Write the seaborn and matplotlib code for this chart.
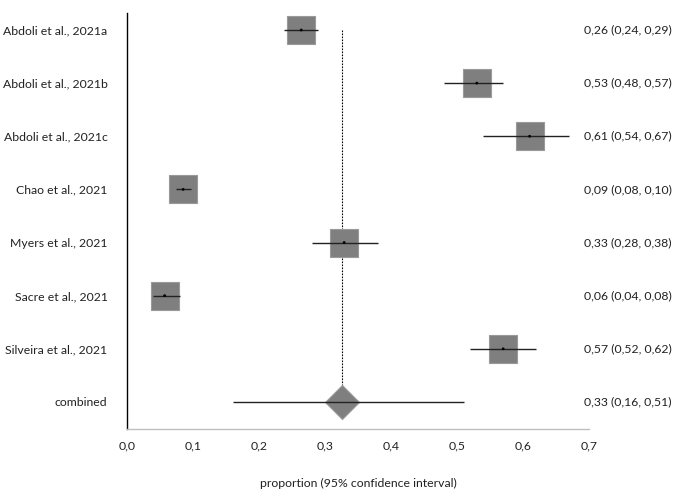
import matplotlib
matplotlib.use("Agg")
import matplotlib.pyplot as plt
import seaborn as sns
import pandas as pd

studies = ["Abdoli et al., 2021a", "Abdoli et al., 2021b", "Abdoli et al., 2021c",
           "Chao et al., 2021", "Myers et al., 2021", "Sacre et al., 2021",
           "Silveira et al., 2021", "combined"]
est = [0.264, 0.53, 0.61, 0.085, 0.329, 0.057, 0.57, 0.326]
lo = [0.238, 0.48, 0.54, 0.074, 0.28, 0.04, 0.52, 0.16]
hi = [0.289, 0.57, 0.67, 0.097, 0.38, 0.08, 0.62, 0.51]
labels_txt = ["0,26 (0,24, 0,29)", "0,53 (0,48, 0,57)", "0,61 (0,54, 0,67)",
              "0,09 (0,08, 0,10)", "0,33 (0,28, 0,38)", "0,06 (0,04, 0,08)",
              "0,57 (0,52, 0,62)", "0,33 (0,16, 0,51)"]
xticks = [0.0, 0.1, 0.2, 0.3, 0.4, 0.5, 0.6, 0.7]
xticklabels = ["0,0", "0,1", "0,2", "0,3", "0,4", "0,5", "0,6", "0,7"]

df = pd.DataFrame({"study": studies, "est": est, "lo": lo, "hi": hi,
                   "row": list(range(len(studies)))})
df["kind"] = ["study"] * 7 + ["combined"]

sns.set_style("white")
plt.rcParams["font.family"] = ["Lato", "DejaVu Sans"]

FS = 8.8
TC = "#222222"

fig = plt.figure(figsize=(7, 4.98), dpi=100)
ax = fig.add_axes([127 / 700, 1 - 429 / 498, 462 / 700, 416 / 498])

st = df[df.kind == "study"]
cb = df[df.kind == "combined"]

# reference line
ax.vlines(cb.est.iloc[0], 0, 7, colors="black", linestyles=(0, (1.5, 1.2)),
          linewidth=0.8, zorder=1)

sns.scatterplot(data=st, x="est", y="row", marker="s", s=400, color="#7f7f7f",
                edgecolor="#9a9a9a", linewidth=0.8, ax=ax, zorder=2, legend=False)
sns.scatterplot(data=cb, x="est", y="row", marker="D", s=300, color="#7f7f7f",
                edgecolor="#9a9a9a", linewidth=0.8, ax=ax, zorder=2, legend=False)
ax.hlines(df.row, df.lo, df.hi, colors="#222222", linewidth=1.0, zorder=3)
sns.scatterplot(data=st, x="est", y="row", marker="o", s=4, color="black",
                edgecolor="none", ax=ax, zorder=4, legend=False)

for r, t in zip(df.row, labels_txt):
    ax.text(0.6925, r, t, ha="left", va="center", fontsize=FS, color=TC,
            transform=ax.transData, clip_on=False)

ax.set_xlim(0, 0.7)
ax.set_ylim(7.51, -0.32)
ax.set_xticks(xticks)
ax.set_xticklabels(xticklabels, fontsize=FS, color=TC)
ax.set_yticks(df.row)
ax.set_yticklabels(studies, fontsize=FS, color=TC)
ax.tick_params(axis="y", length=0, pad=14)
ax.tick_params(axis="x", length=5, width=0.8, color="#bfbfbf", direction="out", pad=3)
ax.set_xlabel("proportion (95% confidence interval)", fontsize=FS, color=TC,
              labelpad=19)
ax.set_ylabel("")
for s in ["top", "right"]:
    ax.spines[s].set_visible(False)
ax.spines["left"].set_color("black")
ax.spines["left"].set_linewidth(1.0)
ax.spines["bottom"].set_color("#bfbfbf")
ax.spines["bottom"].set_linewidth(1.0)

fig.savefig("out.png", dpi=100)
